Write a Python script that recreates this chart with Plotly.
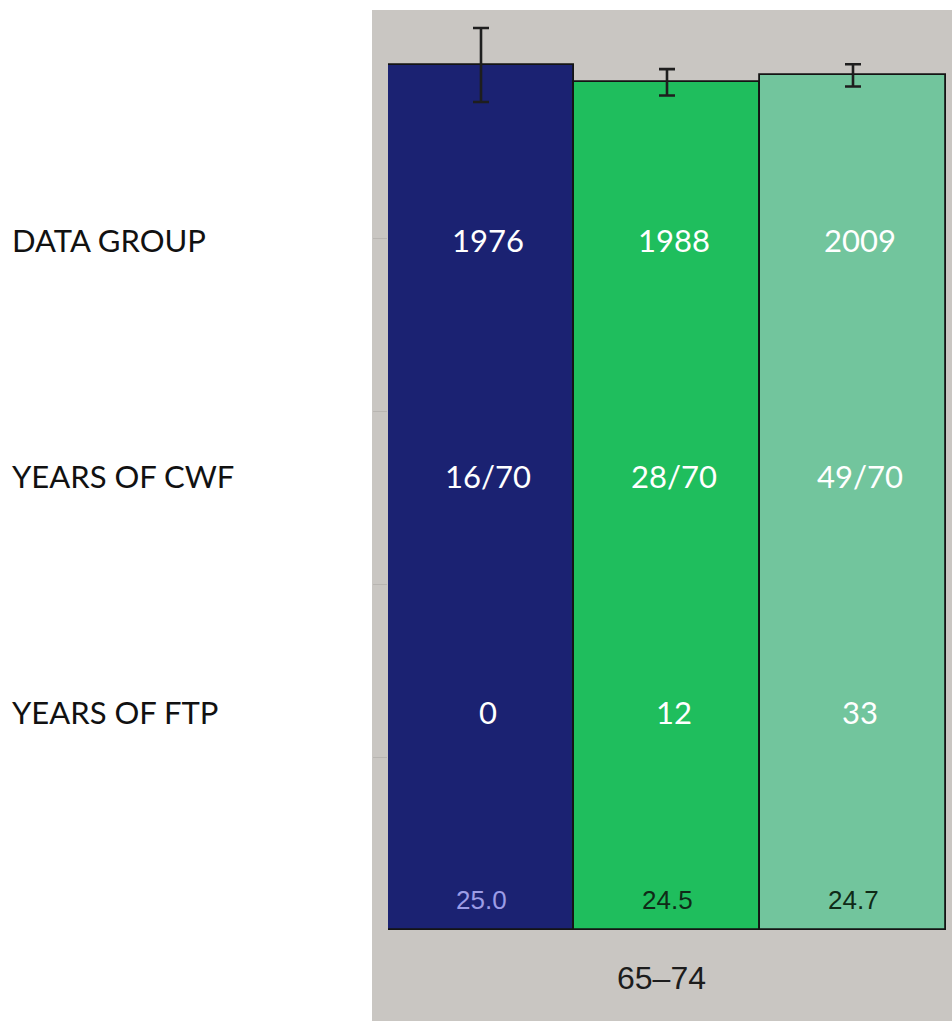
import plotly.graph_objects as go

# Data
groups = ["1976", "1988", "2009"]
age_band = "65–74"
mean_values = [25.0, 24.5, 24.7]
error_values = [1.07, 0.38, 0.32]
cwf_years = ["16/70", "28/70", "49/70"]
ftp_years = ["0", "12", "33"]
row_labels = ["DATA GROUP", "YEARS OF CWF", "YEARS OF FTP"]

bar_colors = ["#1b2272", "#1fbe5d", "#72c59d"]
value_label_colors = ["#9c9ce6", "#0f2a17", "#0f2a17"]

W, H = 952, 1021
L, R, T, B = 388, 6, 10, 91
plot_w = W - L - R
plot_h = H - T - B


def px_to_paper_x(px):
    return (px - L) / plot_w


def py_to_paper_y(py):
    return (H - B - py) / plot_h


fig = go.Figure()

fig.add_trace(go.Bar(
    x=list(range(len(groups))),
    y=mean_values,
    marker=dict(color=bar_colors, line=dict(color="#141414", width=1.8)),
    error_y=dict(type="data", array=error_values, visible=True,
                 color="#1e1e1e", thickness=2.6, width=8),
    hoverinfo="skip",
))

# Grey panel behind the chart
fig.add_shape(type="rect", xref="paper", yref="paper",
              x0=px_to_paper_x(372), x1=px_to_paper_x(960),
              y0=py_to_paper_y(1030), y1=py_to_paper_y(10),
              fillcolor="#c9c6c2", line=dict(width=0), layer="below")

annotations = []

# Row captions on the left
row_py = [240, 476, 712]
for label, py in zip(row_labels, row_py):
    annotations.append(dict(
        text=label, xref="paper", yref="paper",
        x=px_to_paper_x(10), y=py_to_paper_y(py),
        xanchor="left", yanchor="middle", showarrow=False,
        font=dict(family="Lato", size=31, color="#111111"),
    ))

# Row values inside the bars
for rows, py in zip([groups, cwf_years, ftp_years], row_py):
    for i, txt in enumerate(rows):
        annotations.append(dict(
            text=txt, xref="x", yref="paper",
            x=i + 0.04, y=py_to_paper_y(py),
            xanchor="center", yanchor="middle", showarrow=False,
            font=dict(family="Lato", size=31, color="#ffffff"),
        ))

# Mean value labels near the base of each bar
for i, (v, c) in enumerate(zip(mean_values, value_label_colors)):
    annotations.append(dict(
        text=f"{v:.1f}", xref="x", yref="y",
        x=i, y=0, yshift=30,
        xanchor="center", yanchor="middle", showarrow=False,
        font=dict(family="Liberation Sans", size=26, color=c),
    ))

# Age band label under the bars
annotations.append(dict(
    text=age_band, xref="x", yref="paper",
    x=0.97, y=py_to_paper_y(978),
    xanchor="center", yanchor="middle", showarrow=False,
    font=dict(family="Liberation Sans", size=32, color="#1c1c1c"),
))

fig.update_layout(
    width=W, height=H,
    margin=dict(l=L, r=R, t=T, b=B),
    paper_bgcolor="#ffffff",
    plot_bgcolor="rgba(0,0,0,0)",
    bargap=0,
    showlegend=False,
    annotations=annotations,
    xaxis=dict(range=[-0.5, 2.5], showticklabels=False, showgrid=False,
               zeroline=False, showline=False, ticks=""),
    yaxis=dict(range=[0, plot_h / (865 / 25.0)], showticklabels=False,
               showgrid=False, zeroline=False, showline=False,
               ticks="outside", ticklen=14, tickcolor="#b8b5b1", tickwidth=1,
               tickvals=[5, 10, 15, 20]),
)

fig.write_html("out.html")
